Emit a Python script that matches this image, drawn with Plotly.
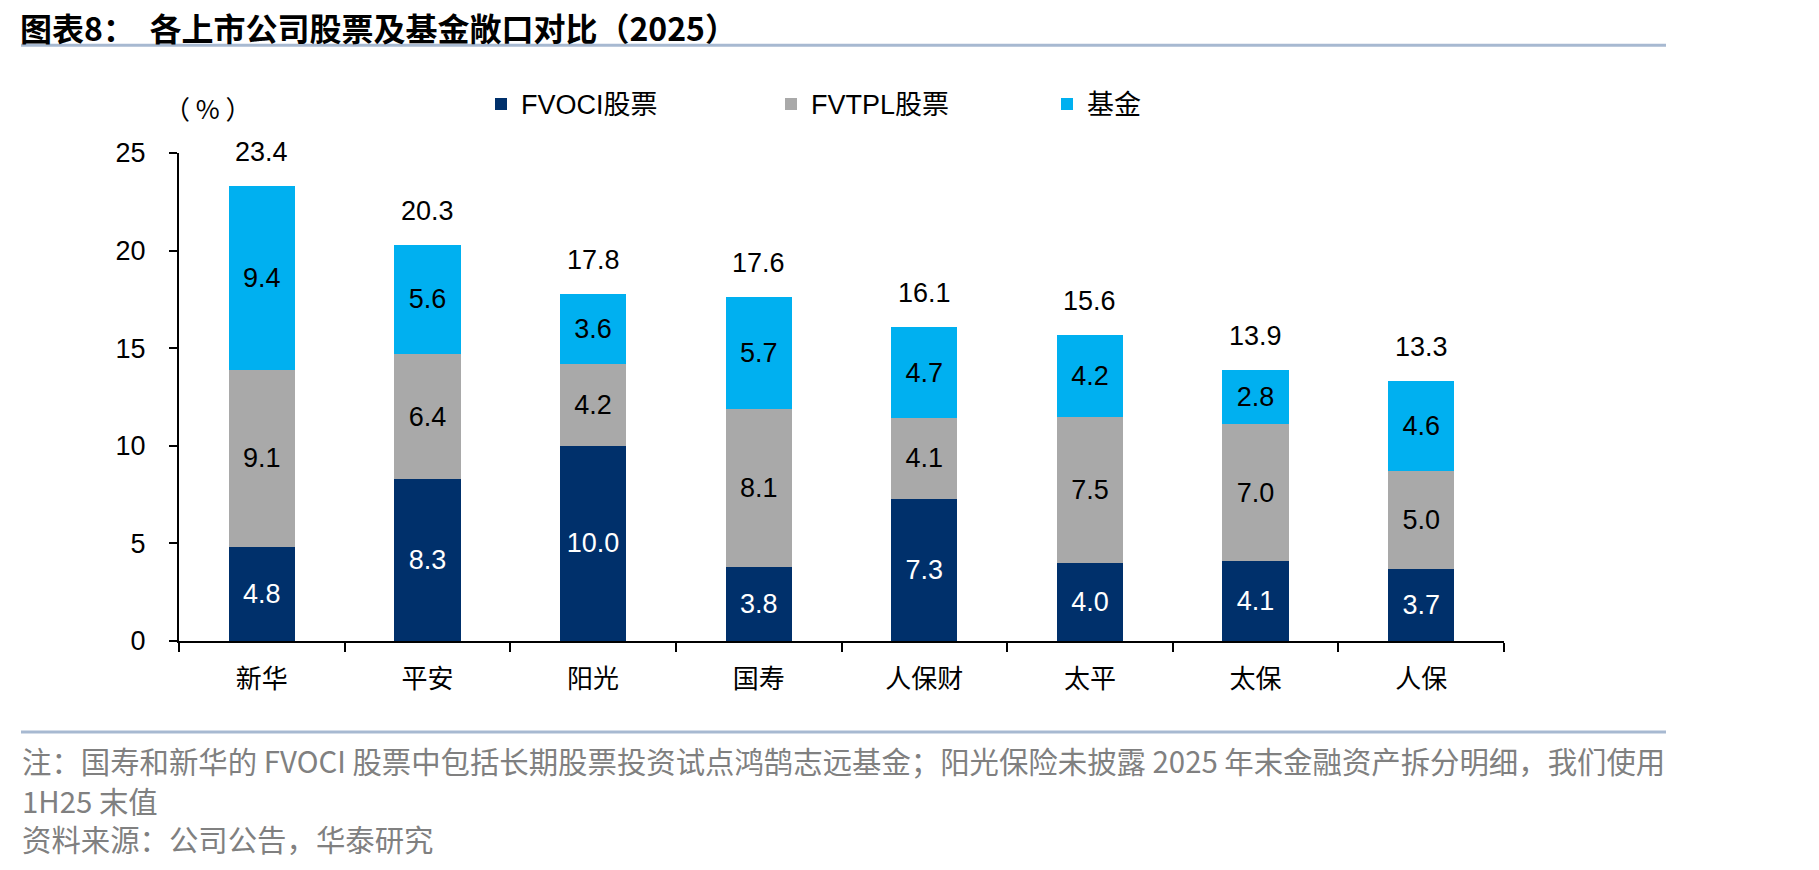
import plotly.graph_objects as go

categories = ["新华", "平安", "阳光", "国寿", "人保财", "太平", "太保", "人保"]
fvoci = [4.8, 8.3, 10.0, 3.8, 7.3, 4.0, 4.1, 3.7]
fvtpl = [9.1, 6.4, 4.2, 8.1, 4.1, 7.5, 7.0, 5.0]
fund = [9.4, 5.6, 3.6, 5.7, 4.7, 4.2, 2.8, 4.6]
totals = [23.4, 20.3, 17.8, 17.6, 16.1, 15.6, 13.9, 13.3]
series_names = ["FVOCI股票", "FVTPL股票", "基金"]
y_ticks = [0, 5, 10, 15, 20, 25]

W, H = 1819, 870
L, R, T, B = 179, 1504, 152.7, 641.0


def px2x(px):
    return (px - L) / (R - L)


def px2y(py):
    return (B - py) / (B - T)


FONT = "Liberation Sans, Arial, Noto Sans CJK SC, sans-serif"
CJK = "Noto Sans CJK SC, sans-serif"
colors = ["#00306B", "#A9A9A9", "#00B0F0"]
text_colors = ["#FFFFFF", "#000000", "#000000"]
legend_ids = ["legend", "legend2", "legend3"]
legend_px = [481, 771, 1047]

fig = go.Figure()
for name, vals, col, tcol, lid in zip(series_names, [fvoci, fvtpl, fund], colors, text_colors, legend_ids):
    fig.add_trace(go.Bar(
        x=categories, y=vals, name=name, legend=lid,
        marker=dict(color=col, line=dict(width=0)),
        text=[f"{v:.1f}" for v in vals],
        textposition="inside", insidetextanchor="middle", textangle=0,
        constraintext="none",
        insidetextfont=dict(family=FONT, size=27, color=tcol),
        hoverinfo="skip",
    ))

annotations = []
for c, t, a, b_, f in zip(categories, totals, fvoci, fvtpl, fund):
    annotations.append(dict(
        x=c, y=a + b_ + f, xref="x", yref="y", text=f"{t:.1f}",
        showarrow=False, yanchor="middle", yshift=34,
        font=dict(family=FONT, size=27, color="#000000"),
    ))

annotations.append(dict(x=px2x(208), y=px2y(107), xref="paper", yref="paper",
                        text="（ % ）", showarrow=False, xanchor="center", yanchor="middle",
                        font=dict(family=CJK, size=26, color="#000000")))

annotations.append(dict(x=px2x(18), y=px2y(27), xref="paper", yref="paper",
                        text="<b>图表8：  各上市公司股票及基金敞口对比（2025）</b>",
                        showarrow=False, xanchor="left", yanchor="middle",
                        font=dict(family=CJK, size=32, color="#000000")))

foot_lines = [
    ("注：国寿和新华的 FVOCI 股票中包括长期股票投资试点鸿鹄志远基金；阳光保险未披露 2025 年末金融资产拆分明细，我们使用", 760),
    ("1H25 末值", 800),
    ("资料来源：公司公告，华泰研究", 838),
]
for txt, yy in foot_lines:
    annotations.append(dict(x=px2x(20), y=px2y(yy), xref="paper", yref="paper",
                            text=txt, showarrow=False, xanchor="left", yanchor="middle",
                            font=dict(family=CJK, size=29.4, color="#808080")))

shapes = [
    dict(type="line", xref="paper", yref="paper", x0=px2x(21), x1=px2x(1666),
         y0=px2y(45), y1=px2y(45), line=dict(color="#A7B9D1", width=3)),
    dict(type="line", xref="paper", yref="paper", x0=px2x(21), x1=px2x(1666),
         y0=px2y(732), y1=px2y(732), line=dict(color="#A7B9D1", width=3)),
]

legend_common = dict(orientation="h", y=px2y(104), xanchor="left", yanchor="middle",
                     xref="paper", yref="paper",
                     font=dict(family=FONT, size=27, color="#000000"),
                     bgcolor="rgba(0,0,0,0)")
legends = {lid: dict(legend_common, x=px2x(px)) for lid, px in zip(legend_ids, legend_px)}

fig.update_layout(
    width=W, height=H,
    margin=dict(l=L, r=W - R, t=T, b=H - B, pad=0),
    paper_bgcolor="white", plot_bgcolor="white",
    barmode="stack", bargap=0.6,
    showlegend=True,
    annotations=annotations,
    shapes=shapes,
    font=dict(family=FONT, size=27, color="#000000"),
    **legends,
)

fig.update_xaxes(
    showline=True, linecolor="#000000", linewidth=2,
    ticks="outside", tickson="boundaries", ticklen=9, tickcolor="#000000", tickwidth=2,
    tickfont=dict(family=CJK, size=26, color="#000000"),
    showgrid=False, zeroline=False, ticklabelstandoff=14,
)
fig.update_yaxes(
    range=[0, 25], tickvals=y_ticks, showline=True, linecolor="#000000", linewidth=2,
    ticks="outside", ticklen=8, tickcolor="#000000", tickwidth=2,
    tickfont=dict(family=FONT, size=27, color="#000000"),
    showgrid=False, zeroline=False, ticklabelstandoff=18,
)

fig.write_html("out.html")
